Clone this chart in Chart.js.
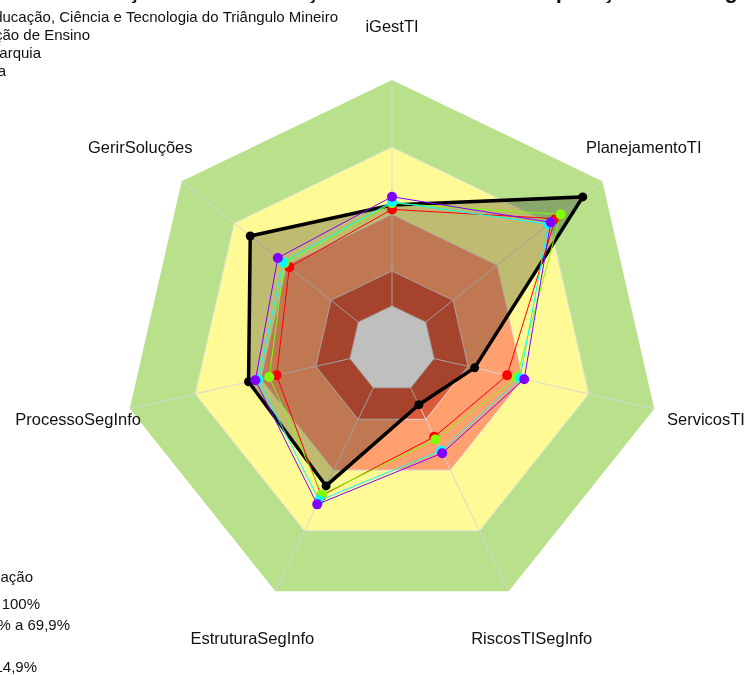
<!DOCTYPE html>
<html lang="pt-BR">
<head>
<meta charset="utf-8">
<title>Radar iGovTI</title>
<script src="https://cdn.jsdelivr.net/npm/chart.js@4.4.0/dist/chart.umd.min.js"></script>
<style>
  html, body { margin: 0; padding: 0; background: #fff; overflow: hidden; }
  #wrap { position: relative; width: 744px; height: 675px; }
</style>
</head>
<body>
<div id="wrap"><canvas id="radar"></canvas></div>
<script>
const categorias = ["iGestTI", "PlanejamentoTI", "ServicosTI", "RiscosTISegInfo", "EstruturaSegInfo", "ProcessoSegInfo", "GerirSoluções"];

// valores (%)
const iftm = [53.5, 90.7, 31.5, 23, 56.5, 54.7, 67.4];
const mediaEnsino = [51.9, 77.7, 43.9, 36.2, 60.6, 44, 48.8];
const mediaAutarquia = [54.2, 80.2, 47.6, 37.3, 60, 46.8, 51.2];
const mediaAdmPublica = [54.7, 74.4, 48.8, 42, 62.5, 51, 51.7];
const mediaGeral = [56.6, 75.5, 50.4, 43, 64.1, 52.1, 54.3];

// faixas de classificação (limite externo de cada faixa)
const faixas = [100, 75, 50, 29, 16];
const faixasCores = ["#B9E18C", "#FFFA96", "#FFA06E", "#DC5A3C", "#FFFFFF"];

const legendaSeries = [
    "Instituto Federal de Educação, Ciência e Tecnologia do Triângulo Mineiro",
    "Média Instituição de Ensino",
    "Média Autarquia",
    "Média da Administração Pública",
    "Média Geral"
];
const legendaFaixasTitulo = "Classificação";
const legendaFaixas = ["Aprimorado: 70% a 100%", "Intermediário: 50% a 69,9%", "Básico: 30% a 49,9%", "Inicial: 0% a 14,9%"];
const titulo = "Avaliação da Governança e Gestão de TI - Comparação com Segmentos";

function poligono(ctx, scale, valor) {
    const r = scale.getDistanceFromCenterForValue(valor);
    ctx.beginPath();
    categorias.forEach(function (_, i) {
        const p = scale.getPointPosition(i, r);
        if (i === 0) ctx.moveTo(p.x, p.y); else ctx.lineTo(p.x, p.y);
    });
    ctx.closePath();
}

// faixas externas ficam por baixo das linhas radiais
const faixasPlugin = {
    id: "faixas",
    beforeDraw(chart) {
        const ctx = chart.ctx, scale = chart.scales.r;
        ctx.save();
        for (let i = 0; i < faixas.length - 1; i++) {
            poligono(ctx, scale, faixas[i]);
            ctx.fillStyle = faixasCores[i];
            ctx.fill();
            if (i > 0) {
                ctx.strokeStyle = "rgba(225,225,225,0.9)";
                ctx.lineWidth = 1;
                ctx.stroke();
            }
        }
        ctx.restore();
    },
    // o centro cobre as linhas radiais
    beforeDatasetsDraw(chart) {
        const ctx = chart.ctx, scale = chart.scales.r;
        const k = faixas.length - 1;
        ctx.save();
        poligono(ctx, scale, faixas[k]);
        ctx.fillStyle = faixasCores[k];
        ctx.fill();
        ctx.strokeStyle = "rgba(225,225,225,0.9)";
        ctx.lineWidth = 1;
        ctx.stroke();
        ctx.restore();
    },
    afterDraw(chart) {
        const ctx = chart.ctx, scale = chart.scales.r;
        ctx.save();
        ctx.fillStyle = "#111";
        ctx.font = "16.5px 'Liberation Sans', Arial, sans-serif";
        ctx.textAlign = "center";
        ctx.textBaseline = "middle";
        categorias.forEach(function (nome, i) {
            const p = scale.getPointPosition(i, scale.drawingArea * 1.197);
            ctx.fillText(nome, p.x, p.y);
        });

        // legenda das séries (recortada à esquerda)
        ctx.font = "15px 'Liberation Sans', Arial, sans-serif";
        ctx.textAlign = "right";
        const fimSeries = [338, 90, 41, 6, -12];
        legendaSeries.forEach(function (txt, i) {
            ctx.fillText(txt, fimSeries[i], 18 + i * 18);
        });

        // legenda das faixas
        ctx.fillText(legendaFaixasTitulo, 33, 578);
        const fimFaixas = [40, 70, -6, 37];
        legendaFaixas.forEach(function (txt, i) {
            ctx.fillText(txt, fimFaixas[i], 605 + i * 21);
        });

        // título (quase todo fora da área visível)
        ctx.font = "bold 22px 'Liberation Sans', Arial, sans-serif";
        ctx.textAlign = "center";
        ctx.textBaseline = "alphabetic";
        ctx.fillText(titulo, 440, -2);
        ctx.restore();
    }
};

new Chart(document.getElementById("radar"), {
    type: "radar",
    data: {
        labels: categorias,
        datasets: [
            {
                label: legendaSeries[0],
                data: iftm,
                borderColor: "#000000",
                backgroundColor: "rgba(0, 0, 0, 0.25)",
                fill: true,
                borderWidth: 3.5,
                pointRadius: 4.5,
                pointBackgroundColor: "#000000",
                pointBorderWidth: 0,
                order: 5
            },
            {
                label: legendaSeries[1],
                data: mediaEnsino,
                borderColor: "#FF0000",
                backgroundColor: "#FF0000",
                fill: false,
                borderWidth: 1,
                pointRadius: 5,
                pointBorderWidth: 0,
                order: 4
            },
            {
                label: legendaSeries[2],
                data: mediaAutarquia,
                borderColor: "#80FF00",
                backgroundColor: "#80FF00",
                fill: false,
                borderWidth: 1,
                pointRadius: 5,
                pointBorderWidth: 0,
                order: 3
            },
            {
                label: legendaSeries[3],
                data: mediaAdmPublica,
                borderColor: "#00FFFF",
                backgroundColor: "#00FFFF",
                fill: false,
                borderWidth: 1,
                pointRadius: 5,
                pointBorderWidth: 0,
                order: 2
            },
            {
                label: legendaSeries[4],
                data: mediaGeral,
                borderColor: "#8000FF",
                backgroundColor: "#8000FF",
                fill: false,
                borderWidth: 1,
                pointRadius: 5,
                pointBorderWidth: 0,
                order: 1
            }
        ]
    },
    options: {
        responsive: true,
        maintainAspectRatio: false,
        animation: false,
        layout: {
            padding: { left: 123, right: 83, top: 80, bottom: 57 }
        },
        elements: {
            line: { tension: 0 }
        },
        scales: {
            r: {
                min: 0,
                max: 100,
                grid: { display: false },
                angleLines: {
                    display: true,
                    color: "rgba(215, 215, 215, 1)",
                    lineWidth: 1
                },
                pointLabels: { display: false },
                ticks: { display: false }
            }
        },
        plugins: {
            legend: { display: false },
            title: { display: false },
            tooltip: { enabled: false }
        }
    },
    plugins: [faixasPlugin]
});
</script>
</body>
</html>
